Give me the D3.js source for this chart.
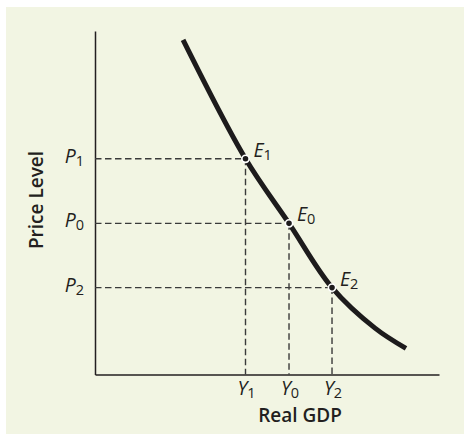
<!DOCTYPE html>
<html>
<head>
<meta charset="utf-8">
<script src="https://cdn.jsdelivr.net/npm/d3@7"></script>
<style>
  html, body { margin: 0; padding: 0; background: #ffffff; }
  svg { display: block; }
  text { font-family: "Open Sans", "Noto Sans", sans-serif; fill: #231f20; }
</style>
</head>
<body>
<svg id="chart" width="464" height="435"></svg>
<script>
// Aggregate demand curve (Real GDP, Price Level), in arbitrary units 0–100
const curveGDP   = [25.6, 43.75, 56.4, 68.9, 81.4, 90.4];
const curvePrice = [97.4, 62.8, 44.0, 25.3, 13.5, 7.6];

// Equilibrium points on the curve
const pointNames = ["1", "0", "2"];
const pointGDP   = [43.75, 56.4, 68.9];
const pointPrice = [62.8, 44.0, 25.3];

// Axis titles
const xTitle = "Real GDP";
const yTitle = "Price Level";

const svg = d3.select("#chart");

// Panel background
svg.append("rect")
  .attr("x", 6).attr("y", 7)
  .attr("width", 458).attr("height", 427)
  .attr("fill", "#f2f5e3");

const x = d3.scaleLinear().domain([0, 100]).range([95, 439]);
const y = d3.scaleLinear().domain([0, 100]).range([374.5, 31]);

// Axes: plain lines, no ticks
const xAxis = d3.axisBottom(x).tickValues([]).tickSizeOuter(0);
const yAxis = d3.axisLeft(y).tickValues([]).tickSizeOuter(0);
svg.append("g").attr("transform", `translate(0,${y(0)})`).call(xAxis)
  .select(".domain").attr("stroke", "#231f20").attr("stroke-width", 1.5);
svg.append("g").attr("transform", `translate(${x(0)},0)`).call(yAxis)
  .select(".domain").attr("stroke", "#231f20").attr("stroke-width", 1.5);

const pts = pointNames.map((n, i) => ({ n, gx: pointGDP[i], py: pointPrice[i] }));

// Dashed guides to both axes
const guides = svg.append("g")
  .attr("stroke", "#3a3a3a")
  .attr("stroke-width", 1.4)
  .attr("stroke-dasharray", "6.5,3.5")
  .attr("fill", "none");
pts.forEach(p => {
  guides.append("line")
    .attr("x1", x(0)).attr("x2", x(p.gx))
    .attr("y1", y(p.py)).attr("y2", y(p.py));
  guides.append("line")
    .attr("x1", x(p.gx)).attr("x2", x(p.gx))
    .attr("y1", y(p.py)).attr("y2", y(0));
});

// Demand curve
const curveData = curveGDP.map((g, i) => [g, curvePrice[i]]);
svg.append("path")
  .datum(curveData)
  .attr("fill", "none")
  .attr("stroke", "#1d1b1c")
  .attr("stroke-width", 5)
  .attr("stroke-linecap", "butt")
  .attr("d", d3.line().x(d => x(d[0])).y(d => y(d[1])).curve(d3.curveCatmullRom.alpha(0.5)));

// Equilibrium dots
svg.append("g").selectAll("circle")
  .data(pts).join("circle")
  .attr("cx", d => x(d.gx)).attr("cy", d => y(d.py))
  .attr("r", 3.6)
  .attr("fill", "#1d1b1c")
  .attr("stroke", "#ffffff")
  .attr("stroke-width", 1.6);

// Helper: italic letter with upright subscript
function subLabel(g, letter, sub, px, py, anchor) {
  const t = g.append("text")
    .attr("x", px).attr("y", py)
    .attr("text-anchor", anchor)
    .attr("font-size", 19.5);
  t.append("tspan").attr("font-style", "italic").text(letter);
  t.append("tspan").attr("font-size", 14.5).attr("dy", 3).text(sub);
  return t;
}

const labels = svg.append("g");
pts.forEach(p => {
  // E labels next to dots
  subLabel(labels, "E", p.n, x(p.gx) + 8, y(p.py) - 2, "start");
  // P labels at the price axis
  subLabel(labels, "P", p.n, 84, y(p.py) + 4, "end");
  // Y labels under the GDP axis
  subLabel(labels, "Y", p.n, x(p.gx) + 1, 395, "middle");
});

// Axis titles
svg.append("text")
  .attr("x", 300).attr("y", 422)
  .attr("text-anchor", "middle")
  .attr("font-size", 19)
  .attr("font-weight", 600)
  .text(xTitle);

svg.append("text")
  .attr("transform", "translate(43,200) rotate(-90)")
  .attr("text-anchor", "middle")
  .attr("font-size", 19)
  .attr("font-weight", 600)
  .text(yTitle);
</script>
</body>
</html>
